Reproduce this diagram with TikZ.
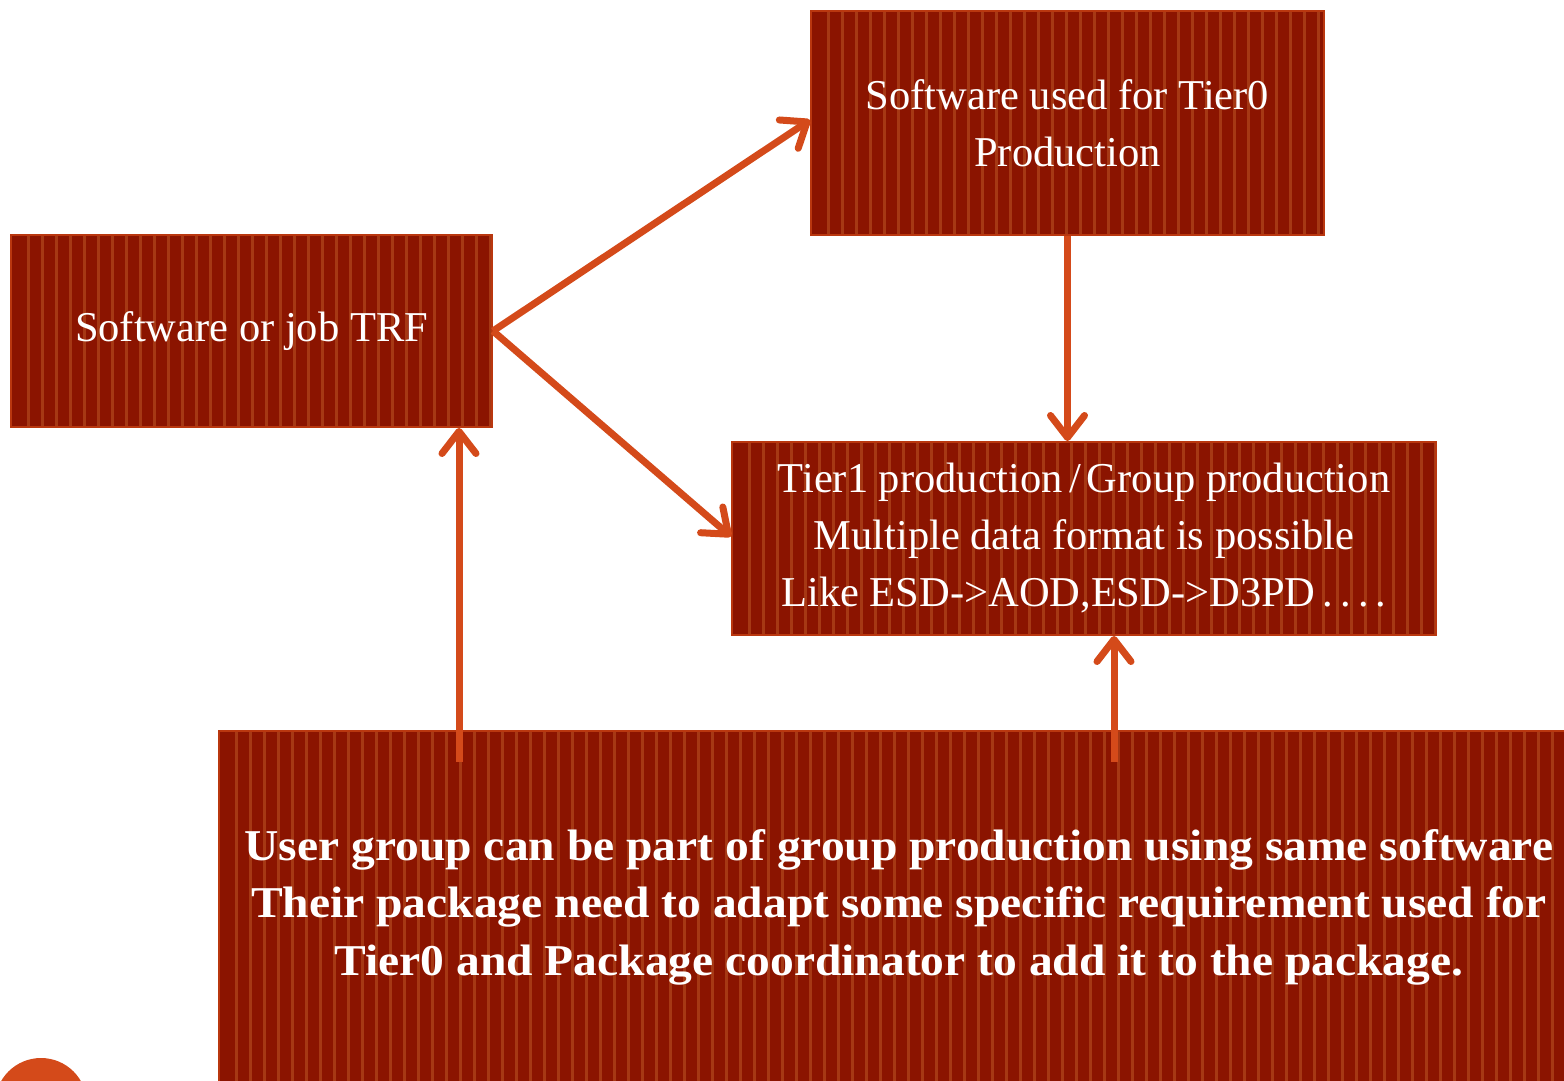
\documentclass[tikz,border=0pt]{standalone}
\usepackage{fontspec}
\setmainfont{Liberation Serif}
\newfontfamily\boldcond[FakeStretch=1.08]{Liberation Serif Bold}
\usetikzlibrary{arrows.meta}
\definecolor{boxfill}{RGB}{139,20,0}
\definecolor{stripec}{RGB}{166,56,20}
\definecolor{boxline}{RGB}{185,55,15}
\definecolor{arrowc}{RGB}{212,74,26}
\begin{document}
\begin{tikzpicture}[x=1pt,y=-1pt,
  stripebox/.style={draw=boxline, line width=2pt, fill=boxfill, anchor=north west,
    inner sep=0pt, text=white, align=center, font=\fontsize{42.5}{57}\selectfont,
    path picture={\foreach \i in {0,...,100}{
      \fill[stripec] ([xshift=\i*14pt+16pt]path picture bounding box.north west)
        rectangle ([xshift=\i*14pt+19pt]path picture bounding box.south west);}}},
  arr/.style={draw=arrowc, line width=7pt,
    -{Straight Barb[round, length=22pt, width=34pt]}},
  bigtext/.style={text=white, align=center, font=\boldcond\fontsize{44}{57.5}\selectfont}]
\clip (0,0) rectangle (1564,1081);
\fill[white] (0,0) rectangle (1564,1081);
% boxes
\node[stripebox, minimum width=481pt, minimum height=192pt] (A) at (10,234) {Software or job TRF};
\node[stripebox, minimum width=513pt, minimum height=224pt] (B) at (810,10) {Software used for Tier0\\Production};
\node[stripebox, minimum width=704pt, minimum height=193pt] (C) at (731,441) {Tier1 production\hspace{6pt}/\hspace{6pt}Group production\\Multiple data format is possible\\Like ESD->AOD,ESD->D3PD\,.\,.\,.\,.};
\node[stripebox, minimum width=1362pt, minimum height=400pt] (D) at (218,730) {};
\node[bigtext] (Dtext) at (899,907) {User group can be part of group production using same software\\Their package need to adapt some specific requirement used for\\Tier0 and Package coordinator to add it to the package.};
% decoration
\node[circle, fill=arrowc, inner sep=0pt, minimum size=92pt] (deco) at (41,1104) {};
% connectors
\draw[arr] (A.east) -- ([yshift=3pt]B.west);
\draw[arr] (A.east) -- ([yshift=2pt]C.west);
\draw[arr] (B.south) -- (B.south |- C.north);
\coordinate (s1) at (459,762);
\coordinate (s2) at (1114,762);
\draw[arr] (s1) -- (s1 |- A.south);
\draw[arr] (s2) -- (s2 |- C.south);
\end{tikzpicture}
\end{document}
